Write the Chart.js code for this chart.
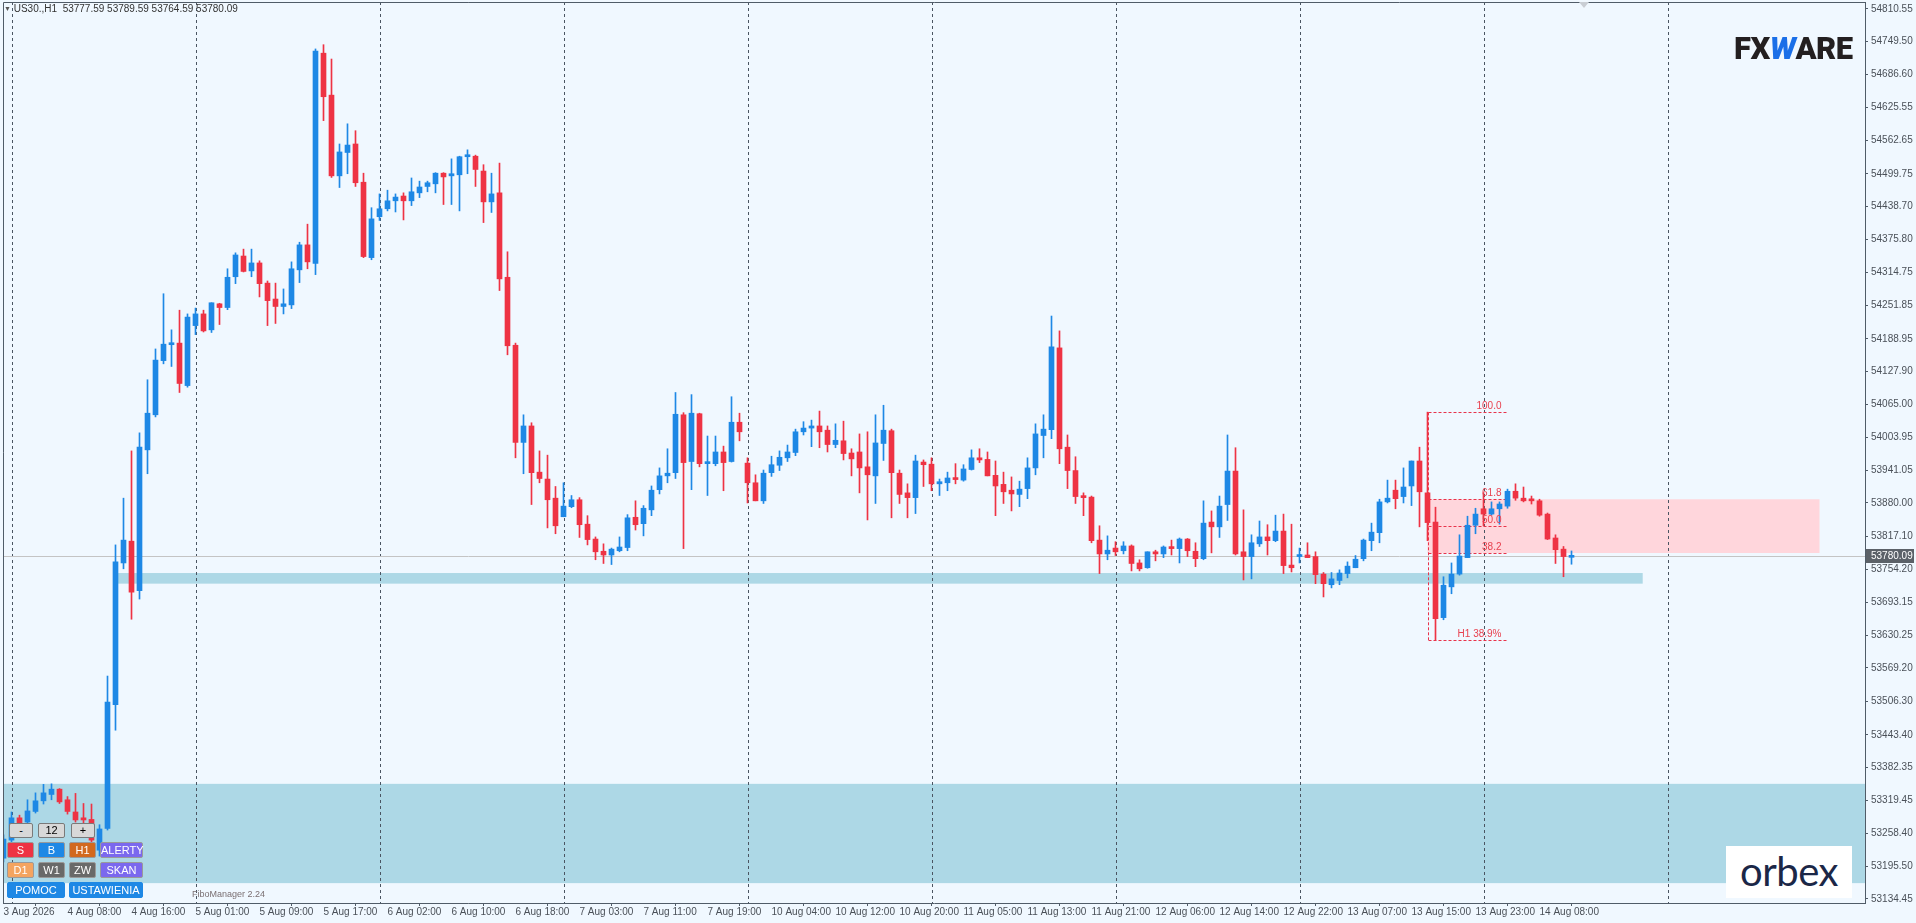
<!DOCTYPE html>
<html lang="pl">
<head>
<meta charset="utf-8">
<title>US30 H1</title>
<script src="https://cdn.jsdelivr.net/npm/chart.js@4.4.1/dist/chart.umd.min.js"></script>
<style>
  html, body { margin: 0; padding: 0; background: #f0f8ff; }
  #wrap { position: relative; width: 1916px; height: 923px; overflow: hidden; font-family: 'Liberation Sans', Arial, sans-serif; }
  #chart { position: absolute; left: 0; top: 0; }
  .hdr { position: absolute; left: 4px; top: 3px; font-size: 10px; line-height: 12px; color: #333; white-space: pre; }
  .hdr .tri { font-size: 7px; color: #555; vertical-align: 1px; }
  .scrolltri { position: absolute; left: 1579px; top: 2px; width: 0; height: 0; border-left: 5px solid transparent; border-right: 5px solid transparent; border-top: 6px solid #c9ced4; }
  .btn { position: absolute; box-sizing: border-box; height: 16px; font-size: 11px; line-height: 14px; text-align: center; color: #fff; border: 1px solid #9a9a9a; border-radius: 2px; }
  .gray { background: #d8d8d8; color: #000; height: 15px; line-height: 13px; border-color: #7a7a7a; }
  .fibo { position: absolute; left: 192px; top: 889px; font-size: 9px; color: #7a6f72; }
  .logo { position: absolute; left: 1734px; top: 31px; font-family: Roboto, 'Liberation Sans', sans-serif; font-weight: 900; font-size: 31px; line-height: 36px; color: #231f20; letter-spacing: -0.5px; }
  .logo .w { color: #1a6fe8; font-style: italic; }
  .orbex { position: absolute; left: 1726px; top: 846px; width: 126px; height: 52px; background: #fff; color: #1b2747; font-family: Lato, 'Open Sans', sans-serif; font-size: 40px; line-height: 50px; text-align: center; letter-spacing: -0.5px; }
</style>
</head>
<body>
<div id="wrap">
  <canvas id="chart" width="1916" height="923"></canvas>
  <div class="hdr"><span class="tri">▼</span> US30.,H1  53777.59 53789.59 53764.59 53780.09</div>
  <div class="scrolltri"></div>
  <div class="logo">FX<span class="w">W</span>ARE</div>
  <div class="orbex">orbex</div>

  <div class="btn gray" style="left:9px;top:823px;width:24px;">-</div>
  <div class="btn gray" style="left:38px;top:823px;width:27px;">12</div>
  <div class="btn gray" style="left:71px;top:823px;width:24px;">+</div>

  <div class="btn" style="left:7px;top:842px;width:27px;background:#ee3344;">S</div>
  <div class="btn" style="left:38px;top:842px;width:27px;background:#1e88e5;">B</div>
  <div class="btn" style="left:69px;top:842px;width:27px;background:#d2691e;">H1</div>
  <div class="btn" style="left:100px;top:842px;width:43px;background:#7b68ee;">ALERTY</div>

  <div class="btn" style="left:7px;top:862px;width:27px;background:#f4a460;">D1</div>
  <div class="btn" style="left:38px;top:862px;width:27px;background:#696969;">W1</div>
  <div class="btn" style="left:69px;top:862px;width:27px;background:#696969;">ZW</div>
  <div class="btn" style="left:100px;top:862px;width:43px;background:#7b68ee;">SKAN</div>

  <div class="btn" style="left:7px;top:882px;width:58px;background:#1e88e5;border-color:#1e88e5;">POMOC</div>
  <div class="btn" style="left:69px;top:882px;width:74px;background:#1e88e5;border-color:#1e88e5;">USTAWIENIA</div>
  <div class="fibo">FiboManager 2.24</div>
</div>

<script>
//hourly candles, bar 0 = 3 Aug 2026, last bar = 14 Aug 12:00
const opens = [
  53211,53245,53287,53279,53299,53319,53331,53341,53321,53298,53287,53284,53226,53267,53500,53767,53808,53715,53980,54046,
  54148,54178,54181,54101,54214,54236,54206,54255,54248,54306,54345,54317,54332,54294,54264,54250,54253,54319,54366,54331,
  54727,54648,54496,54540,54556,54484,54342,54419,54434,54449,54458,54449,54464,54476,54481,54501,54496,54498,54532,54533,
  54505,54447,54464,54305,54177,53994,54025,53938,53925,53889,53854,53873,53886,53840,53812,53789,53782,53790,53796,53853,
  53841,53867,53905,53931,53937,54046,53958,54048,53954,53954,53976,53958,54032,53955,53918,53884,53937,53951,53965,53975,
  54014,54021,54025,54017,53990,53997,53974,53976,53948,53931,53992,54016,53936,53899,53890,53957,53953,53916,53918,53927,
  53923,53943,53965,53962,53932,53915,53904,53896,53907,53946,54007,54018,54172,53985,53941,53892,53891,53810,53784,53795,
  53790,53799,53767,53758,53788,53784,53797,53794,53812,53789,53775,53844,53835,53877,53940,53788,53779,53803,53816,53809,
  53827,53763,53779,53782,53779,53746,53726,53734,53747,53758,53775,53809,53824,53882,53904,53892,53912,53959,53899,53844,
  53664,53722,53746,53777,53838,53869,53859,53869,53874,53902,53889,53885,53884,53859,53814,53793,53777.59
];
const highs = [
  53255,53298,53292,53321,53334,53350,53351,53342,53327,53333,53314,53313,53274,53554,53801,53889,53978,54012,54112,54170,
  54274,54206,54243,54236,54247,54243,54257,54256,54321,54351,54358,54358,54336,54298,54294,54283,54334,54371,54405,54735,
  54743,54716,54556,54594,54581,54501,54436,54462,54469,54462,54464,54492,54486,54486,54502,54502,54528,54533,54545,54535,
  54517,54501,54520,54353,54181,54046,54031,53978,53970,53911,53918,53894,53890,53856,53816,53803,53795,53816,53858,53884,
  53875,53912,53946,53982,54088,54050,54084,54049,54006,54006,53987,54080,54049,53965,53933,53942,53968,53978,53989,54019,
  54033,54036,54053,54025,54029,54034,53982,54010,54014,54046,54064,54019,53942,53916,53970,53961,53965,53925,53938,53954,
  53952,53980,53982,53976,53959,53938,53929,53921,53965,54029,54046,54232,54204,54008,53967,53899,53893,53837,53818,53807,
  53807,53801,53773,53788,53791,53799,53810,53814,53813,53805,53884,53865,53893,54008,53984,53867,53820,53846,53839,53857,
  53859,53840,53795,53805,53788,53749,53749,53754,53769,53781,53812,53842,53887,53923,53923,53946,53959,53985,54051,53872,
  53741,53767,53820,53855,53870,53899,53882,53882,53906,53916,53910,53893,53887,53861,53820,53798,53789.59
];
const lows = [
  53204,53241,53264,53272,53296,53313,53321,53314,53294,53279,53264,53226,53215,53264,53452,53756,53661,53699,53935,54042,
  54142,54137,54088,54098,54197,54202,54201,54216,54244,54293,54315,54306,54268,54214,54218,54236,54246,54295,54321,54310,
  54600,54493,54474,54500,54476,54342,54338,54412,54430,54428,54413,54440,54455,54466,54464,54442,54442,54430,54500,54476,
  54408,54427,54280,54159,53965,53935,53877,53918,53833,53822,53854,53871,53815,53801,53773,53766,53764,53788,53790,53829,
  53818,53856,53897,53918,53926,53794,53905,53948,53894,53950,53903,53957,53997,53880,53884,53879,53930,53941,53958,53969,
  54008,53986,53984,53976,53984,53961,53931,53899,53848,53879,53960,53852,53879,53852,53860,53911,53903,53894,53903,53916,
  53921,53942,53956,53931,53856,53879,53865,53873,53888,53933,53965,54001,53954,53907,53879,53856,53805,53747,53773,53781,
  53784,53752,53752,53757,53771,53777,53782,53767,53779,53760,53773,53786,53815,53847,53782,53735,53737,53798,53782,53807,
  53747,53750,53767,53777,53728,53703,53720,53726,53739,53758,53771,53790,53805,53880,53869,53880,53875,53835,53809,53622,
  53660,53709,53744,53777,53822,53837,53857,53840,53870,53885,53882,53878,53855,53811,53766,53741,53764.59
];
const closes = [
  53247,53287,53277,53300,53319,53334,53341,53317,53299,53283,53283,53245,53266,53505,53769,53810,53712,53985,54049,54149,
  54179,54180,54105,54230,54236,54204,54257,54248,54305,54347,54316,54332,54293,54261,54250,54255,54321,54366,54334,54731,
  54645,54496,54541,54554,54483,54344,54415,54434,54449,54456,54449,54466,54475,54483,54501,54494,54500,54532,54535,54508,
  54447,54462,54302,54176,53994,54025,53937,53926,53886,53837,53874,53886,53839,53811,53788,53782,53793,53797,53852,53839,
  53870,53904,53931,53936,54047,53956,54049,53954,53956,53976,53956,54032,54014,53918,53884,53936,53952,53966,53976,54014,
  54021,54025,54014,53990,53998,53973,53963,53946,53933,53993,54017,53937,53896,53890,53959,53952,53916,53920,53927,53924,
  53944,53965,53961,53931,53912,53901,53897,53906,53946,54010,54019,54174,53982,53941,53892,53890,53809,53784,53791,53788,
  53799,53766,53756,53788,53784,53797,53794,53812,53790,53775,53842,53835,53874,53940,53784,53779,53805,53816,53809,53827,
  53762,53758,53782,53777,53745,53728,53737,53748,53761,53774,53810,53825,53882,53889,53888,53910,53959,53901,53843,53662,
  53725,53746,53780,53838,53859,53859,53869,53878,53902,53889,53884,53884,53857,53812,53792,53779,53780.09
];

//time axis
const xTickBars = [0,8,16,24,32,40,48,56,64,72,80,88,96,104,112,120,128,136,144,152,160,168,176,184,192];
const xTickLabels = ['3 Aug 2026','4 Aug 08:00','4 Aug 16:00','5 Aug 01:00','5 Aug 09:00','5 Aug 17:00','6 Aug 02:00',
  '6 Aug 10:00','6 Aug 18:00','7 Aug 03:00','7 Aug 11:00','7 Aug 19:00','10 Aug 04:00','10 Aug 12:00','10 Aug 20:00',
  '11 Aug 05:00','11 Aug 13:00','11 Aug 21:00','12 Aug 06:00','12 Aug 14:00','12 Aug 22:00','13 Aug 07:00',
  '13 Aug 15:00','13 Aug 23:00','14 Aug 08:00'];
const gridBars = [1,24,47,70,93,116,139,162,185,208];

//price axis
const yTickValues = [54810.55,54749.50,54686.60,54625.55,54562.65,54499.75,54438.70,54375.80,54314.75,54251.85,
  54188.95,54127.90,54065.00,54003.95,53941.05,53880.00,53817.10,53754.20,53693.15,53630.25,53569.20,53506.30,
  53443.40,53382.35,53319.45,53258.40,53195.50,53134.45];
const lastPrice = 53780.09;

//zones and fibo
const supportZone = [53164, 53351];
const retestZone = [53728, 53748];
const retestZoneBars = [14.25, 204.9];
const fibRange = [53621.9, 54050.7];
const fibBars = [178, 188];
const fibLevels = [0, 38.2, 50, 61.8, 100];
const fibLabels = ['H1 38.9%', '38.2', '50.0', '61.8', '100.0'];
const fibZoneLevels = [38.2, 61.8];
const fibZoneBars = [178, 227];

const bull = '#1e88e5';
const bear = '#ee3344';
const frame = '#505c68';
const axisFont = { family: "'Liberation Sans', Arial, sans-serif", size: 10 };

const colors = opens.map((o, i) => closes[i] >= o ? bull : bear);
const bodies = opens.map((o, i) => ({ x: i, y: [o, closes[i]] }));
const wicks = lows.map((l, i) => ({ x: i, y: [l, highs[i]] }));

function fibPrice(level) {
    return fibRange[0] + (fibRange[1] - fibRange[0]) * level / 100;
}

const overlay = {
    id: 'overlay',
    beforeDatasetsDraw(chart) {
        const { ctx, chartArea: a, scales: { x, y } } = chart;
        ctx.save();
        ctx.beginPath();
        ctx.rect(a.left, a.top, a.right - a.left, a.bottom - a.top);
        ctx.clip();

        //zones
        ctx.fillStyle = '#add8e6';
        let top = y.getPixelForValue(supportZone[1]);
        ctx.fillRect(a.left, top, a.right - a.left, y.getPixelForValue(supportZone[0]) - top);
        top = y.getPixelForValue(retestZone[1]);
        let left = x.getPixelForValue(retestZoneBars[0]);
        ctx.fillRect(left, top, x.getPixelForValue(retestZoneBars[1]) - left, y.getPixelForValue(retestZone[0]) - top);

        ctx.fillStyle = 'rgb(255,214,220)';
        top = y.getPixelForValue(fibPrice(fibZoneLevels[1]));
        left = x.getPixelForValue(fibZoneBars[0]);
        ctx.fillRect(left, top, x.getPixelForValue(fibZoneBars[1]) - left, y.getPixelForValue(fibPrice(fibZoneLevels[0])) - top);

        //grid
        ctx.strokeStyle = '#4a5562';
        ctx.lineWidth = 1;
        ctx.setLineDash([3, 3]);
        gridBars.forEach(function (b) {
            const px = Math.round(x.getPixelForValue(b)) + 0.5;
            ctx.beginPath();
            ctx.moveTo(px, a.top);
            ctx.lineTo(px, a.bottom);
            ctx.stroke();
        });

        //fibo lines
        ctx.strokeStyle = '#e8334a';
        ctx.setLineDash([3, 2]);
        const fx1 = Math.round(x.getPixelForValue(fibBars[0])) + 0.5;
        const fx2 = x.getPixelForValue(fibBars[1]);
        fibLevels.forEach(function (lv) {
            const py = Math.round(y.getPixelForValue(fibPrice(lv))) + 0.5;
            ctx.beginPath();
            ctx.moveTo(fx1, py);
            ctx.lineTo(fx2, py);
            ctx.stroke();
        });
        ctx.beginPath();
        ctx.moveTo(fx1, y.getPixelForValue(fibRange[1]));
        ctx.lineTo(fx1, y.getPixelForValue(fibRange[0]));
        ctx.stroke();

        //last price line
        ctx.setLineDash([]);
        ctx.strokeStyle = '#c4c4c4';
        const ly = Math.round(y.getPixelForValue(lastPrice)) + 0.5;
        ctx.beginPath();
        ctx.moveTo(a.left, ly);
        ctx.lineTo(a.right, ly);
        ctx.stroke();
        ctx.restore();
    },
    afterDatasetsDraw(chart) {
        const { ctx, chartArea: a, scales: { x, y } } = chart;
        ctx.save();
        //fibo labels
        ctx.font = "10px 'Liberation Sans', Arial, sans-serif";
        ctx.fillStyle = '#e8414f';
        ctx.textAlign = 'right';
        ctx.textBaseline = 'bottom';
        const lx = x.getPixelForValue(fibBars[1]) - 6;
        fibLevels.forEach(function (lv, i) {
            ctx.fillText(fibLabels[i], lx, y.getPixelForValue(fibPrice(lv)) - 1);
        });

        //frame left/top
        ctx.strokeStyle = frame;
        ctx.lineWidth = 1;
        ctx.beginPath();
        ctx.moveTo(a.left + 0.5, a.bottom);
        ctx.lineTo(a.left + 0.5, a.top + 0.5);
        ctx.lineTo(a.right, a.top + 0.5);
        ctx.stroke();
        ctx.restore();
    },
    afterDraw(chart) {
        const { ctx, chartArea: a, scales: { y } } = chart;
        //last price tag
        const py = Math.round(y.getPixelForValue(lastPrice));
        ctx.save();
        ctx.fillStyle = '#5b6168';
        ctx.fillRect(a.right + 1, py - 7, 48, 14);
        ctx.fillStyle = '#ffffff';
        ctx.font = "10px 'Liberation Sans', Arial, sans-serif";
        ctx.textAlign = 'left';
        ctx.textBaseline = 'middle';
        ctx.fillText(lastPrice.toFixed(2), a.right + 6, py + 0.5);
        ctx.restore();
    }
};

new Chart(document.getElementById('chart'), {
    type: 'bar',
    data: {
        datasets: [
            { data: bodies, backgroundColor: colors, barThickness: 5, minBarLength: 2, grouped: false, borderWidth: 0, order: 0 },
            { data: wicks, backgroundColor: colors, barThickness: 1, grouped: false, borderWidth: 0, order: 1 }
        ]
    },
    options: {
        responsive: false,
        animation: false,
        events: [],
        layout: { padding: { left: 3, top: 2, right: 0, bottom: 0 } },
        plugins: { legend: { display: false }, tooltip: { enabled: false } },
        scales: {
            x: {
                type: 'linear',
                min: -0.0625,
                max: 232.6875,
                offset: false,
                afterBuildTicks: function (s) { s.ticks = xTickBars.map(v => ({ value: v })); },
                afterFit: function (s) { s.height = 20; s.paddingLeft = 0; s.paddingRight = 0; },
                ticks: {
                    autoSkip: false, maxRotation: 0, minRotation: 0, align: 'start', padding: 0,
                    color: '#4a5058', font: axisFont,
                    callback: (v, i) => xTickLabels[i]
                },
                grid: { drawOnChartArea: false, tickLength: 3, color: frame },
                border: { color: frame }
            },
            y: {
                type: 'linear',
                position: 'right',
                min: 53126.6,
                max: 54823.4,
                afterBuildTicks: function (s) { s.ticks = yTickValues.map(v => ({ value: v })); },
                afterFit: function (s) { s.width = 51; s.paddingTop = 0; s.paddingBottom = 0; },
                ticks: { padding: 3, color: '#4a5058', font: axisFont, callback: v => v.toFixed(2) },
                grid: { drawOnChartArea: false, tickLength: 3, color: frame },
                border: { color: frame }
            }
        }
    },
    plugins: [overlay]
});
</script>
</body>
</html>
